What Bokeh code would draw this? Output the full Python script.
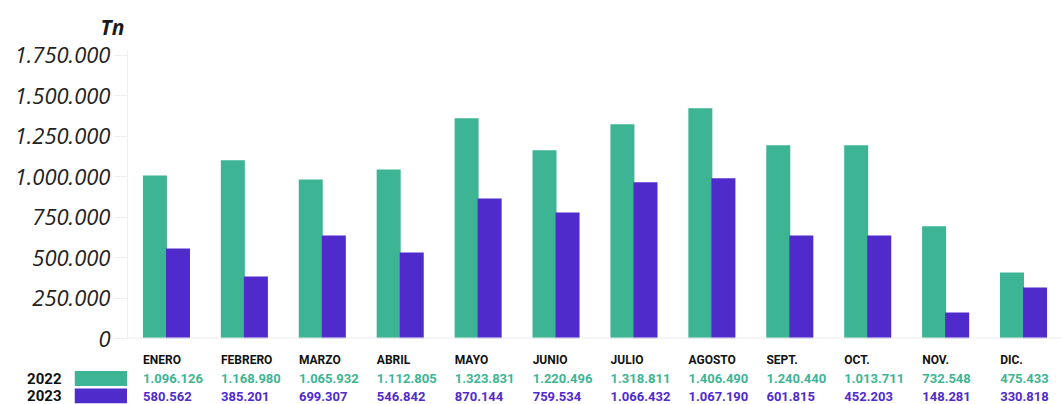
from bokeh.plotting import figure
from bokeh.models import FactorRange, Range1d, Span, ColumnDataSource, FixedTicker, CustomJSTickFormatter
from bokeh.transform import dodge
from bokeh.layouts import column, row
from bokeh.core.properties import value
from bokeh.embed import file_html
from bokeh.resources import INLINE

# ---- data ----
months = ["ENERO", "FEBRERO", "MARZO", "ABRIL", "MAYO", "JUNIO", "JULIO",
          "AGOSTO", "SEPT.", "OCT.", "NOV.", "DIC."]
# bar heights as drawn (Tn)
tn_2022 = [1008000, 1101000, 983000, 1045000, 1361000, 1163000, 1324000,
           1423000, 1194000, 1194000, 693000, 408000]
tn_2023 = [557000, 383000, 637000, 532000, 866000, 779000, 965000,
           990000, 637000, 637000, 161000, 315000]
# values printed in the table
table_2022 = ["1.096.126", "1.168.980", "1.065.932", "1.112.805", "1.323.831", "1.220.496",
              "1.318.811", "1.406.490", "1.240.440", "1.013.711", "732.548", "475.433"]
table_2023 = ["580.562", "385.201", "699.307", "546.842", "870.144", "759.534",
              "1.066.432", "1.067.190", "601.815", "452.203", "148.281", "330.818"]
series = ["2022", "2023"]
y_ticks = [0, 250000, 500000, 750000, 1000000, 1250000, 1500000, 1750000]
Y_MAX = 1780000

GREEN = "#3DB594"
PURPLE = "#4F2BCC"
colors = [GREEN, PURPLE]
TABLE_FONT = value("Roboto")

HEAD_ROW = " "
src = ColumnDataSource(dict(month=months, tn22=tn_2022, tn23=tn_2023,
                            lab22=table_2022, lab23=table_2023,
                            r_head=[HEAD_ROW] * len(months),
                            r22=[series[0]] * len(months),
                            r23=[series[1]] * len(months)))

# ---- main chart ----
p = figure(x_range=FactorRange(*months), y_range=Range1d(0, Y_MAX),
           width=1062, height=352, output_backend="svg", toolbar_location=None,
           x_axis_location=None, min_border_left=127, min_border_right=0,
           min_border_top=50, min_border_bottom=14, outline_line_color=None)
p.xgrid.visible = False
p.ygrid.visible = False

p.vbar(x=dodge("month", -0.148, range=p.x_range), top="tn22", width=0.308,
       color=GREEN, line_color=None, source=src)
p.vbar(x=dodge("month", 0.148, range=p.x_range), top="tn23", width=0.308,
       color=PURPLE, line_color=None, source=src)

ax = p.yaxis[0]
ax.ticker = FixedTicker(ticks=y_ticks)
ax.formatter = CustomJSTickFormatter(code="""
    return Math.round(tick).toString().replace(/\\B(?=(\\d{3})+(?!\\d))/g, '.');
""")
ax.bounds = (0, Y_MAX)
ax.axis_line_color = "#f0f0f0"
ax.major_tick_line_color = "#eeeeee"
ax.major_tick_out = 13
ax.major_tick_in = 0
ax.minor_tick_line_color = None
ax.major_label_standoff = 4
ax.major_label_text_font = "Open Sans"
ax.major_label_text_font_style = "italic"
ax.major_label_text_font_size = "22px"
ax.major_label_text_color = "#222222"

p.add_layout(Span(location=0, dimension="width", line_color="#eeeeee", line_width=2))

p.title.text = "Tn"
p.title.align = "left"
p.title.offset = -27
p.title.standoff = 19
p.title.text_font = "Open Sans"
p.title.text_font_style = "bold italic"
p.title.text_font_size = "21px"
p.title.text_color = "#1a1a1a"

# ---- table ----
rows_range = FactorRange(series[1], series[0], HEAD_ROW)
tf = figure(x_range=p.x_range, y_range=rows_range, width=935, height=52,
            output_backend="svg", toolbar_location=None,
            x_axis_location=None, y_axis_location=None,
            min_border_left=0, min_border_right=0, min_border_top=0, min_border_bottom=0,
            outline_line_color=None)
tf.xgrid.visible = False
tf.ygrid.visible = False
xl = dodge("month", -0.30, range=tf.x_range)
tf.text(x=xl, y="r_head", text="month", source=src, text_font=TABLE_FONT,
        text_font_style="bold", text_font_size="12px", text_color="#111111",
        text_baseline="middle", text_align="left", y_offset=-1)
tf.text(x=xl, y="r22", text="lab22", source=src, text_font=TABLE_FONT,
        text_font_style="bold", text_font_size="13px", text_color=GREEN,
        text_baseline="middle", text_align="left", y_offset=-0.5)
tf.text(x=xl, y="r23", text="lab23", source=src, text_font=TABLE_FONT,
        text_font_style="bold", text_font_size="13px", text_color=PURPLE,
        text_baseline="middle", text_align="left", y_offset=0.5)

# ---- key (series labels + swatches) ----
lf = figure(x_range=Range1d(0, 1), y_range=rows_range, width=127, height=52,
            output_backend="svg", toolbar_location=None, x_axis_location=None,
            min_border_left=74, min_border_right=0, min_border_top=0, min_border_bottom=0,
            outline_line_color=None)
lf.xgrid.visible = False
lf.ygrid.visible = False
lf.hbar(y=series, left=0, right=1, height=0.86, color=colors, line_color=None)
la = lf.yaxis[0]
la.axis_line_color = None
la.major_tick_line_color = None
la.minor_tick_line_color = None
la.major_label_standoff = 7
la.major_label_text_font = "Roboto"
la.major_label_text_font_style = "bold"
la.major_label_text_font_size = "15px"
la.major_label_text_color = "#111111"

layout = column(p, row(lf, tf, spacing=0), spacing=0)
open("out.html", "w").write(file_html(layout, INLINE))
